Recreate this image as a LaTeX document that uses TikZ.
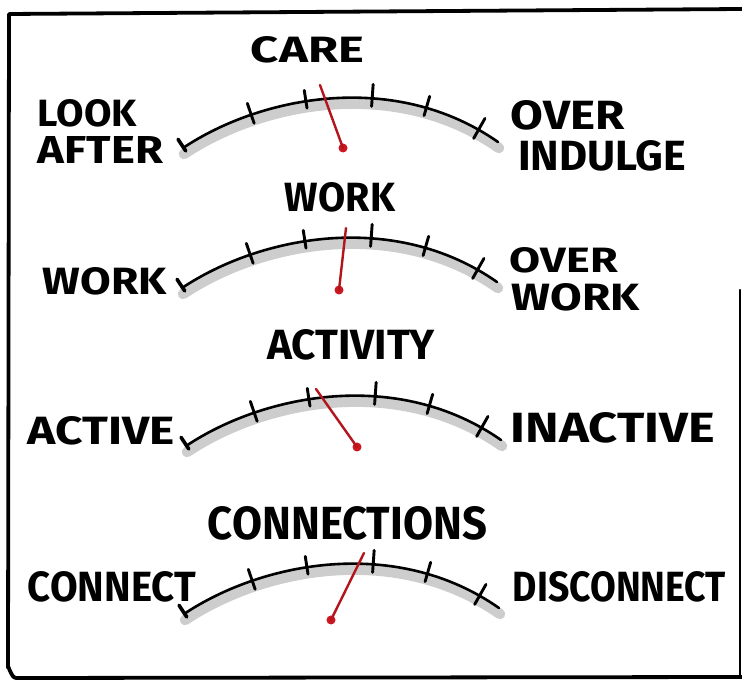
\documentclass[tikz,border=0pt]{standalone}
\usepackage{fontspec}
\setmainfont{Fira Sans}
\usepackage{graphicx}
\usetikzlibrary{decorations.markings}

% one drawing unit
\newdimen\pxu \pxu=0.03cm
% hand-lettered word squeezed into a given width and cap height
\newcommand\hand[3]{\resizebox{#1\pxu}{#2\pxu}{\bfseries #3}}

\definecolor{inkred}{HTML}{B3151C}
\definecolor{dotred}{HTML}{CC1620}
\definecolor{shadegray}{HTML}{CDCDCD}

\tikzset{
  frame/.style={line width=3.8\pxu, line cap=round, line join=round},
  sideframe/.style={line width=2.4\pxu, line cap=round},
  shadowband/.style={shadegray, line width=10.5\pxu, line cap=round},
  tickmark/.style={line width=2.9\pxu, line cap=round},
  dial/.style={line width=2.6\pxu, line cap=round,
    postaction={decorate},
    decoration={markings,
      mark=at position 0.002 with {\draw[tickmark, line width=3.6\pxu] (0,4) -- (0,-10);},
      mark=at position 0.228 with {\draw[tickmark] (0,9) -- (0,-12);},
      mark=at position 0.397 with {\draw[tickmark] (0,7) -- (0,-11);},
      mark=at position 0.596 with {\draw[tickmark] (0,8) -- (0,-14);},
      mark=at position 0.761 with {\draw[tickmark] (0,8) -- (0,-12);},
      mark=at position 0.931 with {\draw[tickmark] (0,10) -- (0,-13);}
    }},
  needle/.style={inkred, line width=2.4\pxu, line cap=round},
  pivot/.style={circle, fill=dotred, inner sep=0, minimum size=9\pxu},
  word/.style={inner sep=0, outer sep=0},
  dialface/.pic={
    \draw[shadowband] (184,154) .. controls (263,101.3) and (396.6,76.3) .. (499,148);
    \draw[dial] (183,148) .. controls (262,95.3) and (395.6,70.3) .. (498,142);
  }
}

\begin{document}
\begin{tikzpicture}[x=0.03cm, y=-0.03cm]
  \useasboundingbox (0,0) rectangle (742,683);
  \fill[white] (0,0) rectangle (742,683);

  % panel border
  \draw[frame] (742,9) -- (9,14) -- (8,668) to[out=90,in=180] (16,678) -- (742,677);
  \draw[sideframe] (740,290) -- (740,677);

  % the four dials
  \pic at (0,0) {dialface};
  \pic at (-1,140) {dialface};
  \pic at (3,298) {dialface};
  \pic at (1,466) {dialface};

  % needles
  \node[pivot] (p1) at (343,148) {};
  \coordinate (t1) at (320,85);
  \node[pivot] (p2) at (339,290) {};
  \coordinate (t2) at (346,228);
  \node[pivot] (p3) at (357,447) {};
  \coordinate (t3) at (316,389);
  \node[pivot] (p4) at (331,620) {};
  \coordinate (t4) at (364,553);
  \draw[needle] (p1.center) -- (t1);
  \draw[needle] (p2.center) -- (t2);
  \draw[needle] (p3.center) -- (t3);
  \draw[needle] (p4.center) -- (t4);

  % words
  \node[word] (care)    at (307.5,50)  {\hand{113}{26}{CARE}};
  \node[word] (look)    at (87.5,113)  {\hand{99}{27}{LOOK}};
  \node[word] (after)   at (100.5,150) {\hand{125}{27}{AFTER}};
  \node[word] (over1)   at (568,115)   {\hand{114}{29}{OVER}};
  \node[word] (indulge) at (602,156)   {\hand{168}{30}{INDULGE}};

  \node[word] (work)    at (340,197.5) {\hand{110}{29}{WORK}};
  \node[word] (workl)   at (105,281.5) {\hand{124}{27}{WORK}};
  \node[word] (over2)   at (564,260)   {\hand{108}{25}{OVER}};
  \node[word] (workr)   at (576,297)   {\hand{128}{27}{WORK}};

  \node[word] (activity) at (351,345)  {\hand{168}{30}{ACTIVITY}};
  \node[word] (active)   at (101.5,431) {\hand{147}{28}{ACTIVE}};
  \node[word] (inactive) at (613,428)  {\hand{204}{30}{INACTIVE}};

  \node[word] (connections) at (347.5,523.5) {\hand{279}{33}{CONNECTIONS}};
  \node[word] (connect)     at (112,587)     {\hand{168}{30}{CONNECT}};
  \node[word] (disconnect)  at (619.5,587)   {\hand{213}{30}{DISCONNECT}};
\end{tikzpicture}
\end{document}
